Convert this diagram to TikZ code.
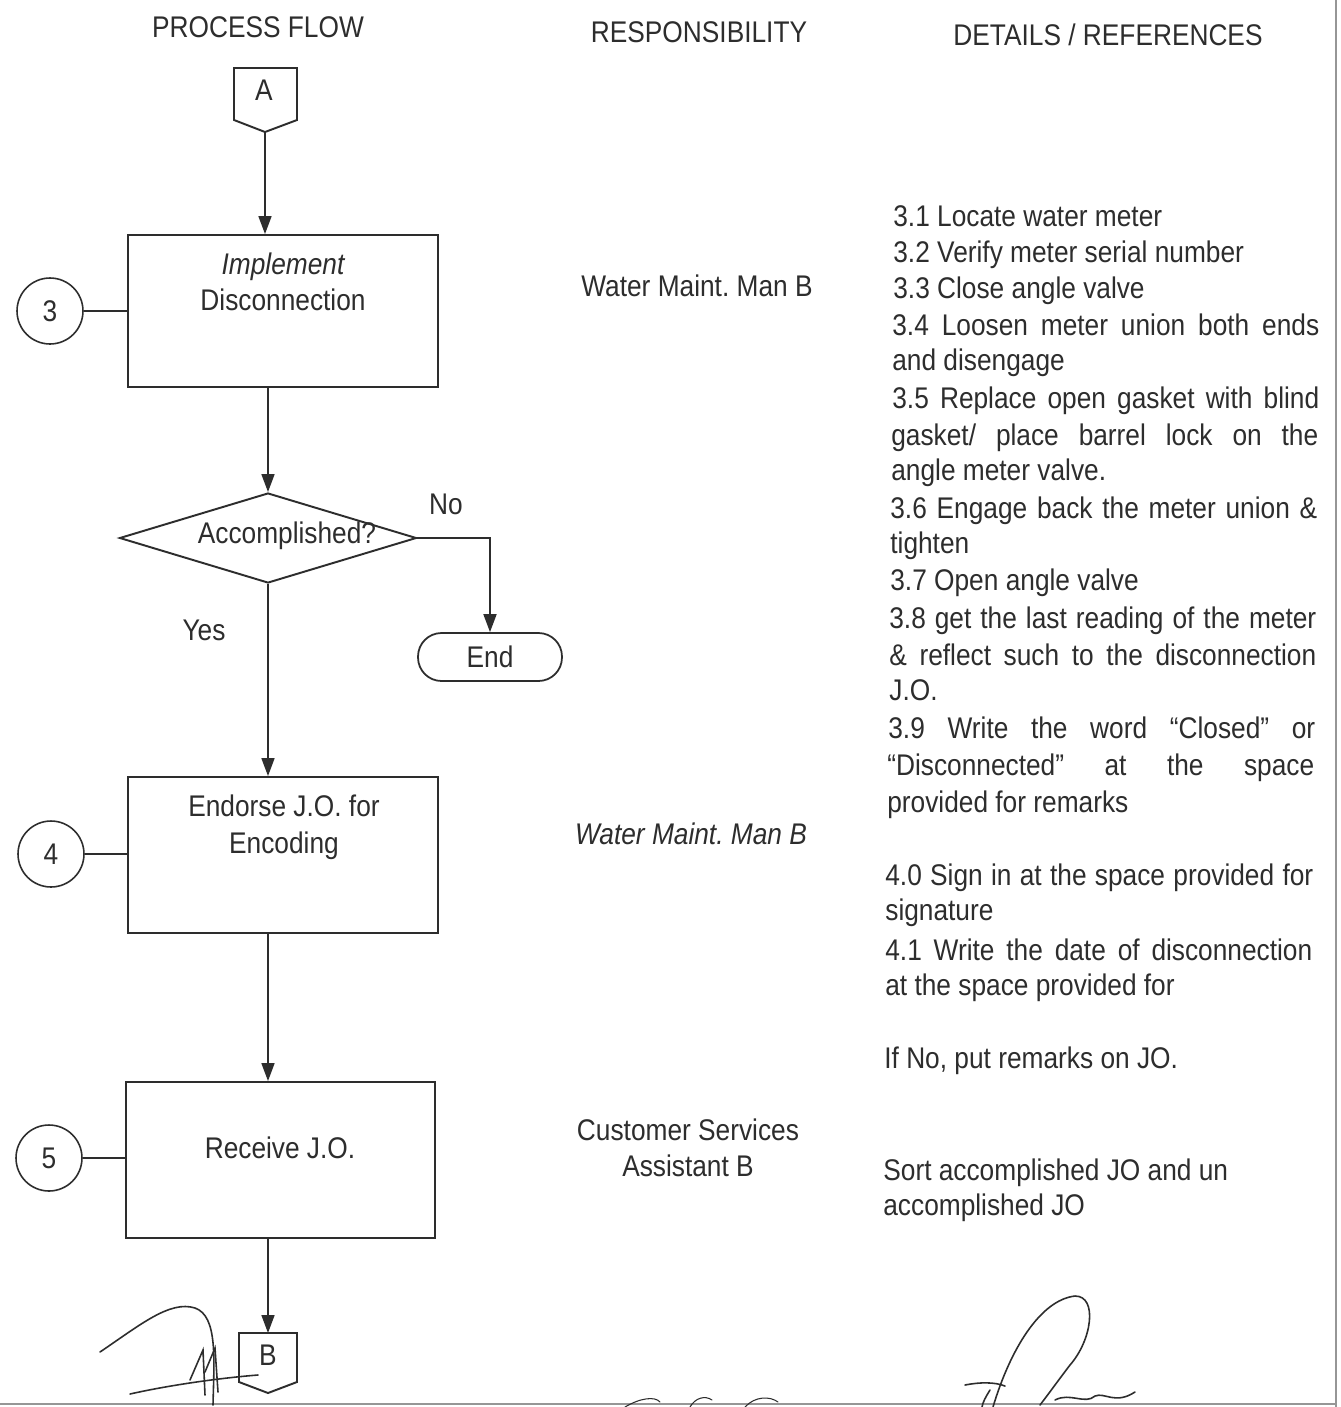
\documentclass[tikz,border=0pt]{standalone}
\usepackage{fontspec}
\setmainfont[FakeStretch=0.88]{Liberation Sans}
\usetikzlibrary{arrows.meta,shapes.geometric}
\definecolor{ink}{RGB}{45,45,45}
\definecolor{rule}{RGB}{150,150,150}
\frenchspacing
\begin{document}
\begin{tikzpicture}[x=0.02cm,y=-0.02cm,
  txt/.style={font=\fontsize{17}{20}\selectfont, text=ink, inner sep=0, anchor=base},
  dl/.style={font=\fontsize{17}{20}\selectfont, text=ink, inner sep=0, anchor=base west},
  flowbox/.style={draw=ink, line width=1.1pt, rectangle, inner sep=0},
  num/.style={circle, draw=ink, line width=0.9pt, minimum size=1.32cm, inner sep=0, font=\fontsize{17}{20}\selectfont, text=ink},
  arr/.style={draw=ink, line width=1pt, -{Triangle[length=0.36cm,width=0.26cm]}},
  plain/.style={draw=ink, line width=1pt},
  sig/.style={draw=ink, line width=0.9pt, line cap=round}]
\fill[white] (0,0) rectangle (1340,1407);
\useasboundingbox (0,0) rectangle (1340,1407);
% page rules
\draw[rule, line width=1.2pt] (1336,0) -- (1336,1407);
\draw[rule, line width=1.2pt] (0,1404) -- (1336,1404);
% headers
\node[txt] (h1) at (258,37) {PROCESS FLOW};
\node[txt] (h2) at (699,42) {RESPONSIBILITY};
\node[txt] (h3) at (1108,45) {DETAILS / REFERENCES};
% connector A
\draw[plain, line width=1.1pt] (234,68) -- (297,68) -- (297,120) -- (265,132) -- (234,120) -- cycle;
\node[txt] (A) at (264,100) {A};
\coordinate (Abot) at (265,132);
% box 3
\node[flowbox, minimum width=6.2cm, minimum height=3.04cm] (b3) at (283,311) {};
\node[txt] (t3a) at (283,274) {\itshape Implement};
\node[txt] (t3b) at (283,310) {Disconnection};
\node[num] (c3) at (50,311) {3};
% diamond
\node[diamond, draw=ink, line width=1.1pt, minimum width=5.94cm, minimum height=1.8cm, inner sep=0] (dia) at (268,538) {};
\node[txt] (tdia) at (287,543) {Accomplished?};
\node[txt] (no) at (446,514) {No};
\node[txt] (yes) at (204,640) {Yes};
% end
\node[draw=ink, line width=1pt, rounded corners=0.47cm, minimum width=2.88cm, minimum height=0.96cm, font=\fontsize{17}{20}\selectfont, text=ink, inner sep=0] (end) at (490,657) {End};
% box 4
\node[flowbox, minimum width=6.2cm, minimum height=3.12cm] (b4) at (283,855) {};
\node[txt] (t4a) at (284,816) {Endorse J.O. for};
\node[txt] (t4b) at (284,853) {Encoding};
\node[num] (c4) at (51,854) {4};
% box 5
\node[flowbox, minimum width=6.18cm, minimum height=3.12cm] (b5) at (280.5,1160) {};
\node[txt] (t5) at (280,1158) {Receive J.O.};
\node[num] (c5) at (49,1158) {5};
% connector B
\draw[plain, line width=1.1pt] (239,1333) -- (297,1333) -- (297,1382) -- (268,1393) -- (239,1382) -- cycle;
\node[txt] (B) at (268,1365) {B};
\coordinate (Btop) at (268,1333);
% connectors
\draw[arr] (Abot) -- (Abot |- b3.north);
\draw[arr] (b3.south -| dia.north) -- (dia.north);
\draw[arr] (dia.east) -| (end.north);
\draw[arr] (dia.south) -- (dia.south |- b4.north);
\draw[arr] (b4.south -| dia.south) -- (b5.north -| dia.south);
\draw[arr] (b5.south -| Btop) -- (Btop);
\draw[plain] (c3) -- (c3 -| b3.west);
\draw[plain] (c4) -- (c4 -| b4.west);
\draw[plain] (c5) -- (c5 -| b5.west);
% responsibility
\node[txt] (r1) at (697,296) {Water Maint. Man B};
\node[txt] (r2) at (691,844) {\itshape Water Maint. Man B};
\node[txt] (r3a) at (688,1140) {Customer Services};
\node[txt] (r3b) at (688,1176) {Assistant B};
% details
\node[dl] (d1) at (893,226) {3.1 Locate water meter};
\node[dl] (d2) at (893,262) {3.2 Verify meter serial number};
\node[dl] (d3) at (893,298) {3.3 Close angle valve};
\node[dl] (d4) at (892,335) {\makebox[8.54cm][s]{3.4 Loosen meter union both ends}};
\node[dl] (d5) at (892,370) {and disengage};
\node[dl] (d6) at (892,408) {\makebox[8.54cm][s]{3.5 Replace open gasket with blind}};
\node[dl] (d7) at (891,445) {\makebox[8.54cm][s]{gasket/ place barrel lock on the}};
\node[dl] (d8) at (891,480) {angle meter valve.};
\node[dl] (d9) at (890,518) {\makebox[8.54cm][s]{3.6 Engage back the meter union \&}};
\node[dl] (d10) at (890,553) {tighten};
\node[dl] (d11) at (890,590) {3.7 Open angle valve};
\node[dl] (d12) at (889,628) {\makebox[8.54cm][s]{3.8 get the last reading of the meter}};
\node[dl] (d13) at (889,665) {\makebox[8.54cm][s]{\& reflect such to the disconnection}};
\node[dl] (d14) at (889,700) {J.O.};
\node[dl] (d15) at (888,738) {\makebox[8.54cm][s]{3.9 Write the word “Closed” or}};
\node[dl] (d16) at (887,775) {\makebox[8.54cm][s]{“Disconnected” at the space}};
\node[dl] (d17) at (887,812) {provided for remarks};
\node[dl] (d18) at (885,885) {\makebox[8.56cm][s]{4.0 Sign in at the space provided for}};
\node[dl] (d19) at (885,920) {signature};
\node[dl] (d20) at (885,960) {\makebox[8.54cm][s]{4.1 Write the date of disconnection}};
\node[dl] (d21) at (885,995) {at the space provided for};
\node[dl] (d22) at (884,1068) {If No, put remarks on JO.};
\node[dl] (d23) at (883,1180) {Sort accomplished JO and un};
\node[dl] (d24) at (883,1215) {accomplished JO};
% signatures
\draw[sig] (100,1352) .. controls (140,1325) and (170,1300) .. (195,1308) .. controls (218,1316) and (214,1360) .. (213,1405);
\draw[sig] (130,1394) .. controls (170,1385) and (220,1378) .. (258,1375);
\draw[sig] (190,1380) -- (203,1350) -- (205,1395);
\draw[sig] (205,1372) -- (215,1348) -- (218,1392);
\draw[sig] (993,1407) .. controls (1010,1350) and (1040,1300) .. (1075,1296) .. controls (1098,1296) and (1092,1340) .. (1070,1365) .. controls (1060,1378) and (1050,1392) .. (1040,1405);
\draw[sig] (965,1385) .. controls (980,1382) and (995,1382) .. (1005,1386);
\draw[sig] (990,1390) .. controls (985,1398) and (983,1402) .. (982,1407);
\draw[sig] (1055,1400) .. controls (1070,1392) and (1085,1405) .. (1095,1396) .. controls (1105,1392) and (1115,1405) .. (1135,1392);
\draw[sig, line width=0.6pt] (625,1407) .. controls (640,1398) and (655,1396) .. (660,1402);
\draw[sig, line width=0.6pt] (690,1407) .. controls (695,1398) and (705,1395) .. (712,1400);
\draw[sig, line width=0.6pt] (745,1407) .. controls (755,1396) and (770,1396) .. (778,1402);
\end{tikzpicture}
\end{document}
